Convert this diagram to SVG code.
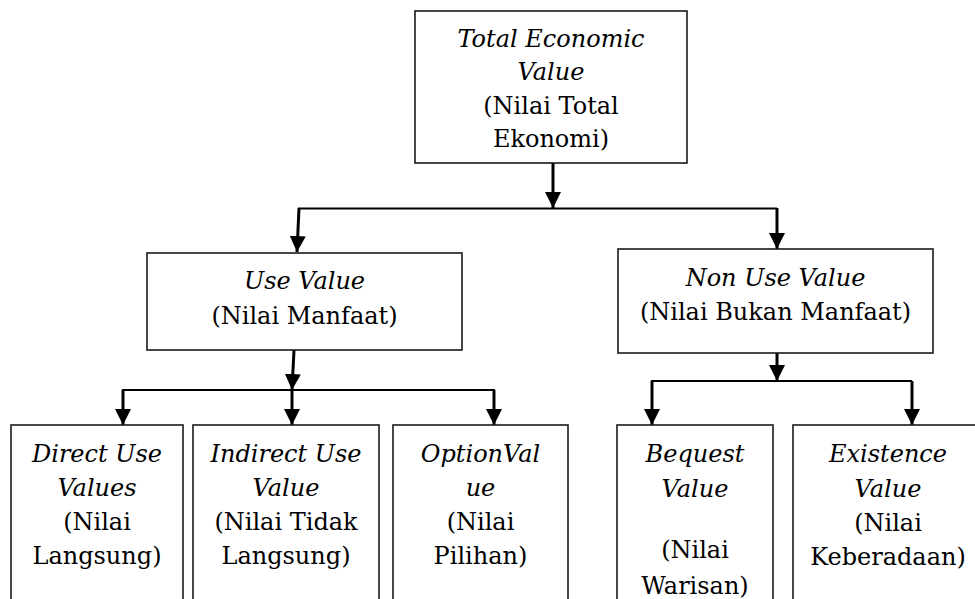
<svg xmlns="http://www.w3.org/2000/svg" width="975" height="599" viewBox="0 0 975 599">
<defs>
<style>
.box{fill:#fff;stroke:#1a1a1a;stroke-width:1.6}
.i{font-style:italic}
.ln{fill:none;stroke:#000;stroke-width:1.8}
.ar{fill:none;stroke:#000;stroke-width:3;marker-end:url(#ah)}
</style>
<marker id="ah" markerUnits="userSpaceOnUse" markerWidth="16" markerHeight="16" viewBox="0 0 16 16" refX="16" refY="8" orient="auto">
<path d="M0,0 L16,8 L0,16 z" fill="#000"/>
</marker>
</defs>
<rect width="975" height="599" fill="#fff"/>
<g id="connectors">
<path class="ar" d="M553,163 L553,208"/>
<path class="ln" d="M298,208.5 L777,208.5"/>
<path class="ar" d="M299,208 L297,252"/>
<path class="ar" d="M777,208 L777,249"/>
<path class="ar" d="M294,350 L292,390"/>
<path class="ln" d="M122,390 L495,390"/>
<path class="ar" d="M123,390 L123,425"/>
<path class="ar" d="M292,390 L292,425"/>
<path class="ar" d="M494,390 L494,425"/>
<path class="ar" d="M777,353 L777,381"/>
<path class="ln" d="M651,381 L912,381"/>
<path class="ar" d="M652,381 L652,425"/>
<path class="ar" d="M912,381 L912,425"/>
</g>
<g id="nodes" font-family="DejaVu Serif, serif" font-size="24" fill="#000" text-anchor="middle">
<g id="total">
<rect class="box" x="415" y="11" width="272" height="152"/>
<text class="i" x="551" y="47">Total Economic</text>
<text class="i" x="551" y="80">Value</text>
<text x="551" y="114">(Nilai Total</text>
<text x="551" y="147">Ekonomi)</text>
</g>
<g id="use">
<rect class="box" x="147" y="253" width="315" height="97"/>
<text class="i" x="304.5" y="289">Use Value</text>
<text x="304.5" y="324">(Nilai Manfaat)</text>
</g>
<g id="nonuse">
<rect class="box" x="618" y="249" width="315" height="104"/>
<text class="i" x="775.5" y="286">Non Use Value</text>
<text x="775.5" y="320">(Nilai Bukan Manfaat)</text>
</g>
<g id="direct">
<rect class="box" x="11" y="425" width="172" height="190"/>
<text class="i" x="97" y="462">Direct Use</text>
<text class="i" x="97" y="496">Values</text>
<text x="97" y="530">(Nilai</text>
<text x="97" y="564">Langsung)</text>
</g>
<g id="indirect">
<rect class="box" x="193" y="425" width="186" height="190"/>
<text class="i" x="286" y="462">Indirect Use</text>
<text class="i" x="286" y="496">Value</text>
<text x="286" y="530">(Nilai Tidak</text>
<text x="286" y="564">Langsung)</text>
</g>
<g id="option">
<rect class="box" x="393" y="425" width="175" height="190"/>
<text class="i" x="480.5" y="462">OptionVal</text>
<text class="i" x="480.5" y="496">ue</text>
<text x="480.5" y="530">(Nilai</text>
<text x="480.5" y="564">Pilihan)</text>
</g>
<g id="bequest">
<rect class="box" x="617" y="425" width="156" height="190"/>
<text class="i" x="695" y="462">Bequest</text>
<text class="i" x="695" y="497">Value</text>
<text x="695" y="558">(Nilai</text>
<text x="695" y="594">Warisan)</text>
</g>
<g id="existence">
<rect class="box" x="793" y="425" width="190" height="190"/>
<text class="i" x="888" y="462">Existence</text>
<text class="i" x="888" y="497">Value</text>
<text x="888" y="531">(Nilai</text>
<text x="888" y="565">Keberadaan)</text>
</g>
</g>
</svg>
